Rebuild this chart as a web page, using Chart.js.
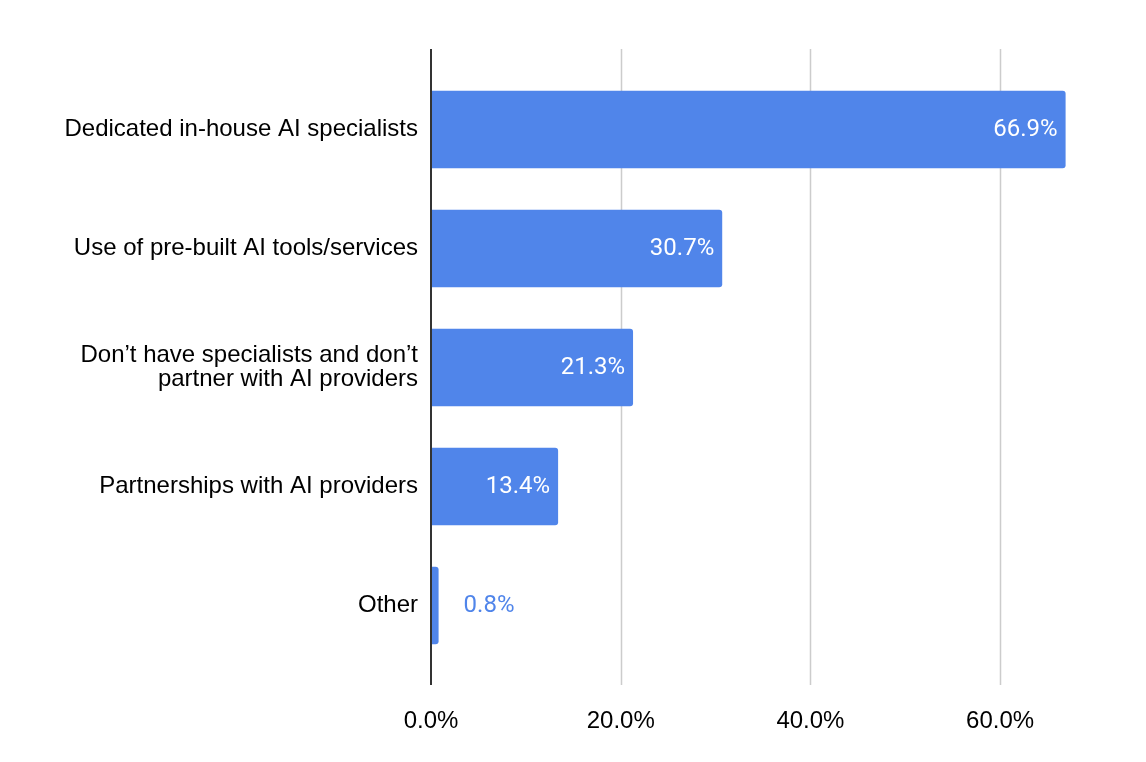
<!DOCTYPE html>
<html>
<head>
<meta charset="utf-8">
<script src="https://cdn.jsdelivr.net/npm/chart.js@4"></script>
<style>
	html, body { margin: 0; padding: 0; background: #fff; }
	#wrap { width: 1146px; height: 762px; }
</style>
</head>
<body>
<div id="wrap"><canvas id="chart"></canvas></div>
<script>
const categories = [
	'Dedicated in-house AI specialists',
	'Use of pre-built AI tools/services',
	['Don\u2019t have specialists and don\u2019t', 'partner with AI providers'],
	'Partnerships with AI providers',
	'Other'
];
const shares = [66.9, 30.7, 21.3, 13.4, 0.8];
const tickValues = [0, 20, 40, 60];

const barColor = '#5085ea';

// gridlines + axis line drawn a bit past the plot area, like the sheets export
const frame = {
	id: 'frame',
	beforeDatasetsDraw(chart) {
		const { ctx, chartArea, scales } = chart;
		ctx.save();
		ctx.strokeStyle = '#cccccc';
		ctx.lineWidth = 1.5;
		tickValues.forEach((v) => {
			if (v === 0) return;
			let x = Math.round(scales.x.getPixelForValue(v)) + 0.5;
			ctx.beginPath();
			ctx.moveTo(x, chartArea.top - 21);
			ctx.lineTo(x, chartArea.bottom + 20);
			ctx.stroke();
		});
		ctx.restore();
	},
	afterDatasetsDraw(chart) {
		const { ctx, chartArea, scales } = chart;
		ctx.save();
		ctx.strokeStyle = '#333333';
		ctx.lineWidth = 2;
		let x0 = scales.x.getPixelForValue(0);
		ctx.beginPath();
		ctx.moveTo(x0, chartArea.top - 21);
		ctx.lineTo(x0, chartArea.bottom + 20);
		ctx.stroke();

		// value labels
		ctx.font = '24px Roboto, "Liberation Sans", sans-serif';
		ctx.textBaseline = 'middle';
		chart.getDatasetMeta(0).data.forEach((bar, i) => {
			let text = shares[i].toFixed(1) + '%';
			let w = ctx.measureText(text).width;
			if (bar.x - bar.base > w + 16) {
				ctx.fillStyle = '#ffffff';
				ctx.textAlign = 'right';
				ctx.fillText(text, bar.x - 8, bar.y);
			} else {
				ctx.fillStyle = barColor;
				ctx.textAlign = 'left';
				ctx.fillText(text, bar.x + 25, bar.y);
			}
		});
		ctx.restore();
	}
};

new Chart(document.getElementById('chart'), {
	type: 'bar',
	data: {
		labels: categories,
		datasets: [{
			data: shares,
			backgroundColor: barColor,
			borderRadius: { topRight: 3, bottomRight: 3 },
			borderSkipped: 'start',
			barPercentage: 0.65,
			categoryPercentage: 1
		}]
	},
	plugins: [frame],
	options: {
		indexAxis: 'y',
		responsive: true,
		maintainAspectRatio: false,
		animation: false,
		layout: { padding: { top: 70, right: 51, left: 0, bottom: 0 } },
		plugins: {
			legend: { display: false },
			tooltip: { enabled: false }
		},
		scales: {
			x: {
				min: 0,
				max: 70,
				afterBuildTicks(axis) {
					axis.ticks = tickValues.map((v) => ({ value: v }));
				},
				afterFit(axis) { axis.height = 97; },
				grid: { display: false },
				border: { display: false },
				ticks: {
					padding: 34,
					color: '#000000',
					font: { family: '"Liberation Sans", Arial, sans-serif', size: 24 },
					callback: (v) => Number(v).toFixed(1) + '%'
				}
			},
			y: {
				afterFit(axis) { axis.width = 431; },
				grid: { display: false },
				border: { display: false },
				ticks: {
					padding: 5,
					color: '#000000',
					font: { family: '"Liberation Sans", Arial, sans-serif', size: 24, lineHeight: 1.0 }
				}
			}
		}
	}
});
</script>
</body>
</html>
